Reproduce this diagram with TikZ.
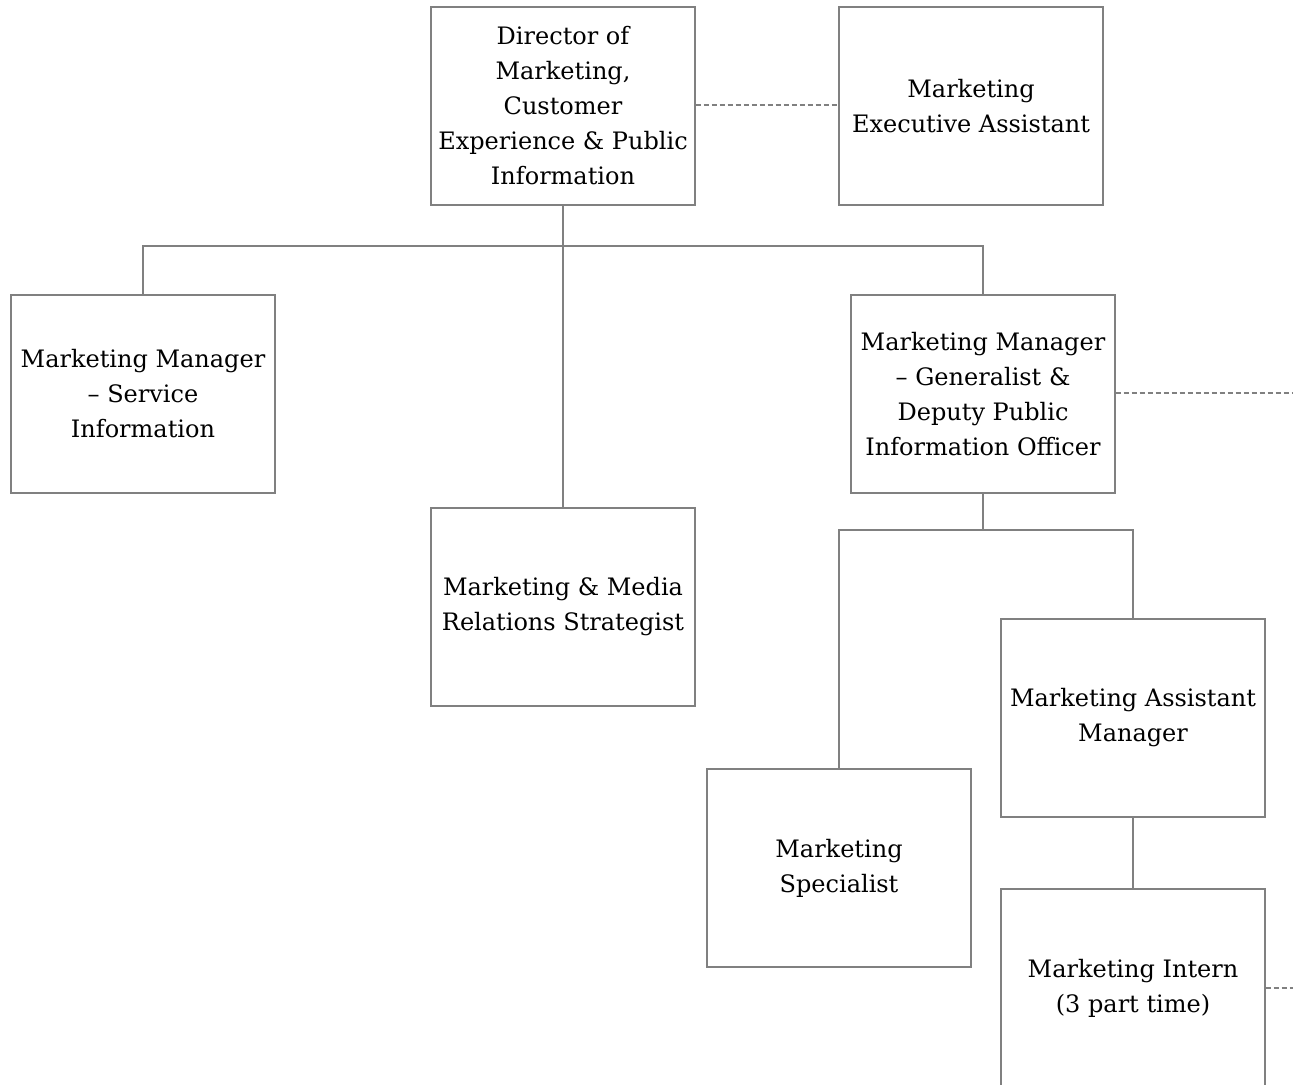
\documentclass[tikz,border=0pt]{standalone}
\usepackage{fontspec}
\setmainfont{DejaVu Serif}
\begin{document}
\begin{tikzpicture}[x=0.5pt,y=-0.5pt,
  role/.style={draw=black!50, line width=0.6pt, fill=white, minimum width=132pt,
    minimum height=99pt, inner sep=0pt, align=center,
    font=\fontsize{12}{17.5}\selectfont},
  link/.style={draw=black!50, line width=0.6pt},
  dotted link/.style={draw=black!50, line width=0.6pt, dash pattern=on 2.5pt off 1.5pt}]
\useasboundingbox (0,0) rectangle (1293,1084);
\node[role] (dir) at (563,106) {Director of\\Marketing,\\Customer\\Experience \& Public\\Information};
\node[role] (exa) at (971,106) {Marketing\\Executive Assistant};
\node[role] (mms) at (143,394) {Marketing Manager\\-- Service\\Information};
\node[role] (mrs) at (563,607) {Marketing \& Media\\Relations Strategist};
\node[role] (mmg) at (983,394) {Marketing Manager\\-- Generalist \&\\Deputy Public\\Information Officer};
\node[role] (mam) at (1133,718) {Marketing Assistant\\Manager};
\node[role] (msp) at (839,868) {Marketing\\Specialist};
\node[role] (min) at (1133,988) {Marketing Intern\\(3 part time)};
\coordinate (ext1) at (1293,393);
\coordinate (ext2) at (1293,988);
% reporting lines
\draw[link] (dir.south) -- (563,246) -| (mms.north);
\draw[link] (563,246) -| (mmg.north);
\draw[link] (dir.south) -- (mrs.north);
\draw[link] (mmg.south) -- (983,530) -| (msp.north);
\draw[link] (983,530) -| (mam.north);
\draw[link] (mam.south) -- (min.north);
% dotted-line relationships
\draw[dotted link] (dir.east |- 0,105) -- (exa.west |- 0,105);
\draw[dotted link] (mmg.east |- ext1) -- (ext1);
\draw[dotted link] (min.east) -- (ext2);
\end{tikzpicture}
\end{document}
